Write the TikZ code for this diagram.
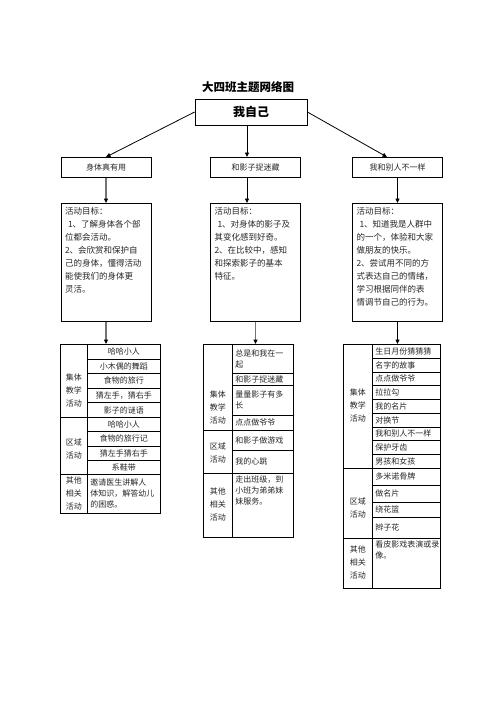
\documentclass[tikz,border=0pt]{standalone}
\usepackage{fontspec}
\setmainfont{Noto Sans CJK SC}
\usetikzlibrary{arrows.meta, positioning, calc}

% group label text, lowered by #1 inside its cell
\newcommand{\grouptext}[2][0pt]{\raisebox{#1}[\height][\depth]{\begin{tabular}{@{}c@{}}#2\end{tabular}}}

\begin{document}
\begin{tikzpicture}[x=1pt, y=-1pt, >={Triangle[length=4.5pt, width=4pt]},
    every node/.style={font=\fontsize{8}{12}\selectfont, text=black!85}]
    \tikzstyle{rootbox}=[rectangle, draw, line width=0.8pt, minimum width=112pt, minimum height=26pt, inner sep=0pt, font=\bfseries\fontsize{12}{14}\selectfont, text=black]
    \tikzstyle{topic}=[rectangle, draw, line width=0.8pt, minimum width=90pt, minimum height=20pt, inner sep=0pt, anchor=north]
    \tikzstyle{goalbox}=[rectangle, draw, line width=0.8pt, inner sep=4pt, anchor=north, font=\fontsize{8.5}{13}\selectfont]
    \tikzstyle{groupcell}=[rectangle, draw, line width=0.7pt, inner sep=0pt, anchor=north west, font=\fontsize{8}{13}\selectfont]
    \tikzstyle{itemcell}=[rectangle, draw, line width=0.7pt, inner sep=0pt, anchor=north west, align=center]
    \tikzstyle{notecell}=[rectangle, draw, line width=0.7pt, inner xsep=3pt, inner ysep=0pt, anchor=north west, align=left, font=\fontsize{8}{11}\selectfont]
    \tikzstyle{link}=[->, line width=0.8pt]
    \tikzstyle{greylink}=[-{Triangle[length=4.5pt, width=4pt, color=black]}, line width=1.2pt, draw=black!55]

    \useasboundingbox (0,0) rectangle (496,702);

    \node[font=\bfseries\fontsize{11.5}{12}\selectfont, text=black] (title) at (248,87) {大四班主题网络图};
    \node[rootbox] (root) at (251,112) {我自己\hspace{17pt}};

    \node[topic] (body) at (106,157) {身体真有用};
    \node[topic] (shadow) at (255.5,157) {和影子捉迷藏};
    \node[topic] (differ) at (397.5,157) {我和别人不一样};

    \node[goalbox] (goalbody) at (106,203) {\parbox[c][110pt][t]{82pt}{活动目标：\\
        \hspace*{3pt}1、了解身体各个部\\位都会活动。\\2、会欣赏和保护自\\己的身体，懂得活动\\能使我们的身体更\\灵活。}};
    \node[goalbox] (goalshadow) at (255.5,203) {\parbox[c][110pt][t]{82pt}{活动目标：\\
        \hspace*{3pt}1、对身体的影子及\\其变化感到好奇。\\2、在比较中，感知\\和探索影子的基本\\特征。}};
    \node[goalbox] (goaldiffer) at (397.5,203) {\parbox[c][110pt][t]{82pt}{活动目标：\\
        \hspace*{3pt}1、知道我是人群中\\的一个，体验和大家\\做朋友的快乐。\\2、尝试用不同的方\\式表达自己的情绪，\\学习根据同伴的表\\情调节自己的行为。}};

    % table: body
    \node[groupcell, minimum width=27pt, minimum height=73pt] (bodyclass) at (60,344) {\grouptext[-10pt]{集体\\教学\\活动}};
    \node[itemcell, minimum width=73pt, minimum height=14.6pt] (bodyA) at (87,344) {哈哈小人};
    \node[itemcell, minimum width=73pt, minimum height=14.6pt] (bodyB) at (87,358.6) {小木偶的舞蹈};
    \node[itemcell, minimum width=73pt, minimum height=14.6pt] (bodyC) at (87,373.2) {食物的旅行};
    \node[itemcell, minimum width=73pt, minimum height=14.6pt] (bodyD) at (87,387.8) {猜左手，猜右手};
    \node[itemcell, minimum width=73pt, minimum height=14.6pt] (bodyE) at (87,402.4) {影子的谜语};
    \node[groupcell, minimum width=27pt, minimum height=57pt] (bodyarea) at (60,417) {\grouptext[-3.5pt]{区域\\活动}};
    \node[itemcell, minimum width=73pt, minimum height=14.25pt] (bodyF) at (87,417) {哈哈小人};
    \node[itemcell, minimum width=73pt, minimum height=14.25pt] (bodyG) at (87,431.25) {食物的旅行记};
    \node[itemcell, minimum width=73pt, minimum height=14.25pt] (bodyH) at (87,445.5) {猜左手猜右手};
    \node[itemcell, minimum width=73pt, minimum height=14.25pt] (bodyI) at (87,459.75) {系鞋带};
    \node[groupcell, minimum width=27pt, minimum height=39pt] (bodymore) at (60,474) {\grouptext{其他\\相关\\活动}};
    \node[notecell, text width=67pt, minimum height=39pt] (bodynote) at (87,474) {邀请医生讲解人\\体知识，解答幼儿\\的困惑。};

    % table: shadow
    \node[groupcell, minimum width=29pt, minimum height=86pt] (shadowclass) at (203,344) {\grouptext[-21pt]{集体\\教学\\活动}};
    \node[notecell, text width=55pt, minimum height=29pt] (shadowA) at (232,344) {总是和我在一\\起};
    \node[notecell, text width=55pt, minimum height=12pt] (shadowB) at (232,373) {和影子捉迷藏};
    \node[notecell, text width=55pt, minimum height=30pt] (shadowC) at (232,385) {量量影子有多\\长};
    \node[notecell, text width=55pt, minimum height=15pt] (shadowD) at (232,415) {点点做爷爷};
    \node[groupcell, minimum width=29pt, minimum height=43pt] (shadowarea) at (203,430) {\grouptext[-1.5pt]{区域\\活动}};
    \node[notecell, text width=55pt, minimum height=20pt] (shadowE) at (232,430) {和影子做游戏};
    \node[notecell, text width=55pt, minimum height=23pt] (shadowF) at (232,450) {我的心跳};
    \node[groupcell, minimum width=29pt, minimum height=64pt] (shadowmore) at (203,473) {\grouptext{其他\\相关\\活动}};
    \node[notecell, text width=55pt, minimum height=64pt] (shadownote) at (232,473) {\parbox[c][60pt][t]{55pt}{走出班级，到\\小班为弟弟妹\\妹服务。}};

    % table: differ
    \node[groupcell, minimum width=29pt, minimum height=124pt] (differclass) at (343,344) {\grouptext{集体\\教学\\活动}};
    \foreach \t [count=\i] in {生日月份猜猜猜, 名字的故事, 点点做爷爷, 拉拉勾, 我的名片, 对换节, 我和别人不一样, 保护牙齿, 男孩和女孩}
        \node[notecell, text width=62pt, minimum height=13.78pt] (differ\i) at (372,{344+13.78*(\i-1)}) {\t};
    \node[groupcell, minimum width=29pt, minimum height=70pt] (differarea) at (343,468) {\grouptext[-5pt]{区域\\活动}};
    \node[notecell, text width=62pt, minimum height=17pt] (differJ) at (372,468) {多米诺骨牌};
    \node[notecell, text width=62pt, minimum height=17pt] (differK) at (372,485) {做名片};
    \node[notecell, text width=62pt, minimum height=15pt] (differL) at (372,502) {绕花篮};
    \node[notecell, text width=62pt, minimum height=21pt] (differM) at (372,517) {辫子花};
    \node[groupcell, minimum width=29pt, minimum height=50pt] (differmore) at (343,538) {\grouptext{其他\\相关\\活动}};
    \node[notecell, text width=62pt, minimum height=50pt] (differnote) at (372,538) {\parbox[c][46pt][t]{62pt}{看皮影戏表演或录\\像。}};

    \draw[link] (root.west) -- (body.north);
    \draw[link] ([xshift=-4pt]root.south) -- ([xshift=-4pt]root.south |- shadow.north);
    \draw[link] (root.east) -- ([xshift=-10.5pt]differ.north);

    \draw[greylink] (body.south) -- (goalbody.north);
    \draw[link] ([xshift=-8.5pt]shadow.south) -- ([xshift=-8.5pt]goalshadow.north);
    \draw[link] (differ.south) -- (goaldiffer.north);

    \draw[greylink] (goalbody.south) -- (goalbody.south |- bodyA.north);
    \draw[greylink] (goalshadow.south) -- (goalshadow.south |- shadowA.north);
    \draw[link] (goaldiffer.south) -- (goaldiffer.south |- differ1.north);
\end{tikzpicture}
\end{document}
